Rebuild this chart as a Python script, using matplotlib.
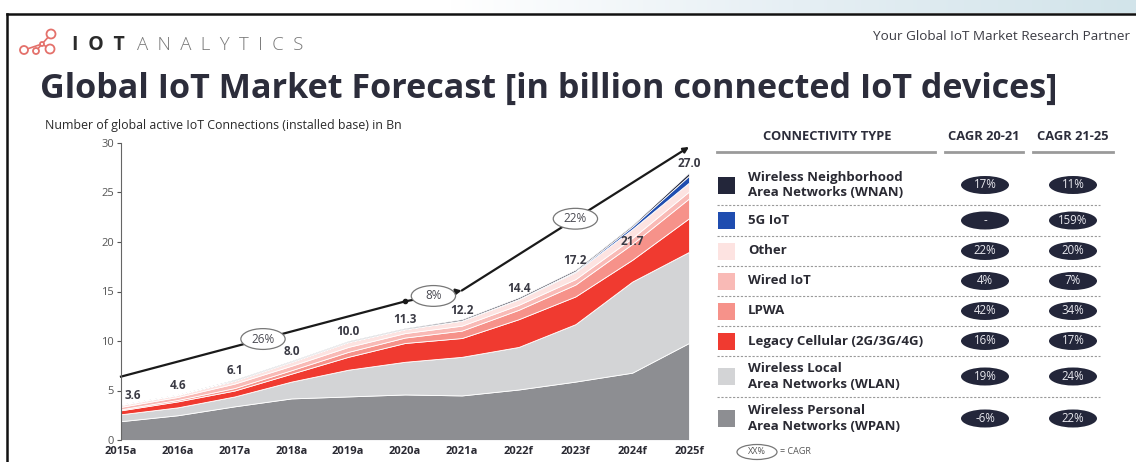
import numpy as np
import matplotlib.pyplot as plt
from matplotlib.patches import Ellipse, Rectangle, Circle
from matplotlib.colors import LinearSegmentedColormap

plt.rcParams['font.family'] = ['Open Sans', 'DejaVu Sans']

# données (milliards d'appareils IoT connectés)
years = ["2015a", "2016a", "2017a", "2018a", "2019a", "2020a",
         "2021a", "2022f", "2023f", "2024f", "2025f"]
totals = [3.6, 4.6, 6.1, 8.0, 10.0, 11.3, 12.2, 14.4, 17.2, 21.7, 27.0]

wpan = [1.9, 2.5, 3.4, 4.2, 4.4, 4.6, 4.5, 5.1, 5.9, 6.8, 9.8]
wlan = [0.7, 0.8, 1.0, 1.7, 2.7, 3.3, 3.9, 4.3, 5.8, 9.2, 9.2]
cellular = [0.4, 0.6, 0.6, 0.8, 1.3, 1.9, 1.9, 2.8, 2.8, 2.2, 3.4]
lpwa = [0.1, 0.15, 0.25, 0.35, 0.5, 0.55, 0.75, 0.95, 1.2, 1.6, 2.0]
wired = [0.25, 0.3, 0.45, 0.45, 0.5, 0.45, 0.5, 0.5, 0.55, 0.6, 0.7]
other = [0.2, 0.2, 0.3, 0.4, 0.5, 0.4, 0.5, 0.55, 0.7, 0.9, 0.9]
g5 = [0, 0, 0, 0, 0, 0, 0.02, 0.05, 0.1, 0.25, 0.7]
wnan = [0.05, 0.05, 0.1, 0.1, 0.1, 0.1, 0.13, 0.15, 0.15, 0.15, 0.3]

# flèche CAGR
cagr_x = [0, 5, 6, 10]
cagr_y = [6.4, 14.0, 15.1, 29.6]
cagr_labels = ["26%", "8%", "22%"]

# tableau
types = ["Wireless Neighborhood\nArea Networks (WNAN)", "5G IoT", "Other",
         "Wired IoT", "LPWA", "Legacy Cellular (2G/3G/4G)",
         "Wireless Local\nArea Networks (WLAN)",
         "Wireless Personal\nArea Networks (WPAN)"]
cagr_20_21 = ["17%", "-", "22%", "4%", "42%", "16%", "19%", "-6%"]
cagr_21_25 = ["11%", "159%", "20%", "7%", "34%", "17%", "24%", "22%"]

colors = {
    "wpan": "#8d8e92", "wlan": "#d3d4d6", "cellular": "#f03a30",
    "lpwa": "#f6928a", "wired": "#f9bab6", "other": "#fde3e1",
    "g5": "#1f4db0", "wnan": "#23263a",
}
row_colors = [colors[k] for k in ["wnan", "g5", "other", "wired", "lpwa",
                                  "cellular", "wlan", "wpan"]]
navy = "#23263a"

W, H = 1136, 462
fig = plt.figure(figsize=(W / 100, H / 100), dpi=100)

# ---- graphique principal
ax = fig.add_axes([121 / W, 1 - 440 / H, 568 / W, 297 / H])
x = np.arange(len(years))
ax.stackplot(x, wpan, wlan, cellular, lpwa, wired, other, g5, wnan,
             colors=[colors[k] for k in ["wpan", "wlan", "cellular", "lpwa",
                                         "wired", "other", "g5", "wnan"]],
             edgecolor="white", linewidth=0.6)
ax.set_xlim(0, 10)
ax.set_ylim(0, 30)
ax.set_yticks(range(0, 31, 5))
ax.set_xticks(x)
ax.set_xticklabels(years, fontweight="bold", fontsize=8, color="#2a2a33")
ax.tick_params(axis="x", length=0, pad=4)
ax.tick_params(axis="y", length=3, labelsize=8, colors="#555555", pad=2)
for s in ["top", "right", "bottom"]:
    ax.spines[s].set_visible(False)
ax.spines["left"].set_color("#666666")
ax.spines["left"].set_linewidth(0.8)

# valeurs totales
for i, t in enumerate(totals):
    dx, dy = 0, 9
    if i == 0:
        dx = 12
    if i == 9:
        dy = -16
    ax.annotate(f"{t:.1f}", (i, t), xytext=(dx, dy), textcoords="offset pixels",
                ha="center", va="center", fontsize=8.5, fontweight="bold",
                color="#3a3a44")

# ligne CAGR
ax.plot(cagr_x[:2], cagr_y[:2], color="#1a1a1a", lw=1.6, clip_on=False)
ax.plot(cagr_x[1], cagr_y[1], "o", color="#1a1a1a", ms=3, clip_on=False)
for k in (1, 2):
    ax.annotate("", xy=(cagr_x[k + 1], cagr_y[k + 1]),
                xytext=(cagr_x[k], cagr_y[k]),
                arrowprops=dict(arrowstyle="-|>", color="#1a1a1a", lw=1.6,
                                mutation_scale=8, shrinkA=0, shrinkB=0),
                annotation_clip=False)
for k, lab in enumerate(cagr_labels):
    mx = (cagr_x[k] + cagr_x[k + 1]) / 2
    my = (cagr_y[k] + cagr_y[k + 1]) / 2
    ax.add_patch(Ellipse((mx, my), 0.78, 2.1, facecolor="white",
                         edgecolor="#777777", lw=0.9, zorder=5, clip_on=False))
    ax.text(mx, my, lab, ha="center", va="center", fontsize=8.5,
            color="#4a4a52", zorder=6)

# ---- calque en pixels pour l'en-tête et le tableau
ov = fig.add_axes([0, 0, 1, 1])
ov.patch.set_alpha(0)

# bandeau dégradé en haut à droite
grad = np.linspace(0, 1, 256).reshape(1, -1)
cm = LinearSegmentedColormap.from_list("g", ["#ffffff", "#e6eff4", "#d2e4ea"])
ov.imshow(grad, cmap=cm, extent=[450, W, 13, 0], aspect="auto", zorder=0)
ov.set_xlim(0, W)
ov.set_ylim(H, 0)
ov.axis("off")

# cadre
ov.plot([7, W], [14, 14], color="#111111", lw=1.8)
ov.plot([7, 7], [14, H], color="#111111", lw=1.8)

# logo
logo_c = "#e4716b"
nodes = [(24, 50), (36, 51), (50, 49), (51, 34), (42, 44)]
for a, b in [(0, 4), (1, 4), (2, 4), (3, 4)]:
    ov.plot([nodes[a][0], nodes[b][0]], [nodes[a][1], nodes[b][1]],
            color=logo_c, lw=1.2)
for (cx, cy), r in zip(nodes, [4, 3, 4.5, 4.5, 2]):
    ov.add_patch(Circle((cx, cy), r, facecolor="white", edgecolor=logo_c,
                        lw=1.3, zorder=3))
ov.text(72, 45, "\u2002".join("IOT"), fontsize=14, fontweight="bold",
        color="#2b2b2b", va="center", ha="left")
ov.text(137, 45, "\u2002".join("ANALYTICS"), fontsize=13.4, color="#777777",
        va="center", ha="left", fontweight="light")
ov.text(1130, 36, "Your Global IoT Market Research Partner", fontsize=9.7,
        color="#3c3c44", ha="right", va="center")

ov.text(40, 89, "Global IoT Market Forecast [in billion connected IoT devices]",
        fontsize=24.6, fontweight="bold", color="#2c2d3b", ha="left",
        va="center")
ov.text(45, 125, "Number of global active IoT Connections (installed base) in Bn",
        fontsize=8.9, color="#2a2a2a", ha="left", va="center")

# en-tête du tableau
hdr_y = 137
for hx, htxt in [(827, "CONNECTIVITY TYPE"), (984, "CAGR 20-21"),
                 (1073, "CAGR 21-25")]:
    ov.text(hx, hdr_y, htxt, fontsize=9.3, fontweight="bold",
            color="#2c2d3b", ha="center", va="center")
for x0, x1 in [(717, 935), (945, 1023), (1033, 1113)]:
    ov.plot([x0, x1], [152, 152], color="#9a9a9a", lw=2)

# lignes du tableau
row_h = [40, 31, 30, 30, 30, 30, 41, 43]
top = 165
for i, name in enumerate(types):
    cy = top + row_h[i] / 2
    ov.add_patch(Rectangle((718, cy - 8.5), 17, 17, facecolor=row_colors[i],
                           edgecolor="none"))
    ov.text(748, cy, name, fontsize=9.5, fontweight="bold", color="#2a2a33",
            ha="left", va="center", linespacing=1.2)
    for px, lab in [(985, cagr_20_21[i]), (1073, cagr_21_25[i])]:
        ov.add_patch(Ellipse((px, cy), 48, 18, facecolor=navy,
                             edgecolor="none"))
        ov.text(px, cy, lab, fontsize=8.3, color="#e8e8ee", ha="center",
                va="center")
    top += row_h[i]
    if i < len(types) - 1:
        ov.plot([717, 1100], [top, top], color="#9a9a9a", lw=0.8,
                linestyle=(0, (2, 1.5)))

# légende CAGR
ov.add_patch(Ellipse((757, 452), 40, 15, facecolor="white",
                     edgecolor="#777777", lw=0.9))
ov.text(757, 452, "XX%", fontsize=6.5, color="#555555", ha="center",
        va="center")
ov.text(780, 452, "= CAGR", fontsize=6.5, color="#555555", ha="left",
        va="center")

fig.savefig("out.png", dpi=100)
